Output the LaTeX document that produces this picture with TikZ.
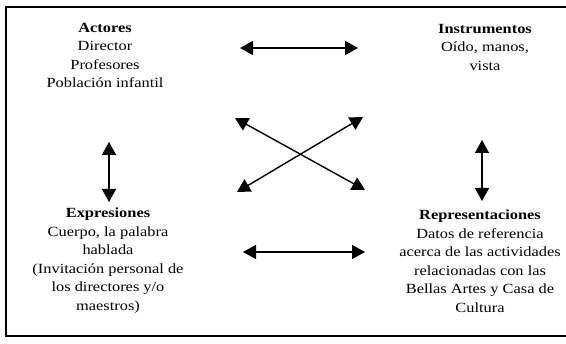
\documentclass[tikz,border=0pt]{standalone}
\usepackage{fontspec}
\setmainfont{Liberation Serif}[FakeStretch=1.17]
\usetikzlibrary{arrows.meta}
\begin{document}
\begin{tikzpicture}[x=1pt,y=-1pt,
  lbl/.style={align=center,inner sep=0pt,font=\fontsize{14}{18.5}\selectfont},
  dbl/.style={{Triangle[length=13pt,width=14pt]}-{Triangle[length=13pt,width=14pt]},line width=1.4pt}]
\useasboundingbox (0,0) rectangle (566,344);
\draw[line width=1.1pt] (566,7) -- (6,7) -- (6,336) -- (566,336);
\node[lbl,anchor=north] (act) at (105,23) {\textbf{Actores}\\Director\\Profesores\\Población infantil};
\node[lbl,anchor=north] (ins) at (485,24) {\textbf{Instrumentos}\\Oído, manos,\\vista};
\node[lbl,anchor=north] (exp) at (108,208) {\textbf{Expresiones}\\Cuerpo, la palabra\\hablada\\(Invitación personal de\\los directores y/o\\maestros)};
\node[lbl,anchor=north] (rep) at (480,210) {\textbf{Representaciones}\\Datos de referencia\\acerca de las actividades\\relacionadas con las\\Bellas Artes y Casa de\\Cultura};
\coordinate (t1) at (240,48); \coordinate (t2) at (358,48);
\coordinate (b1) at (243,252); \coordinate (b2) at (365,252);
\coordinate (l1) at (109,142); \coordinate (l2) at (109,202);
\coordinate (r1) at (482,140); \coordinate (r2) at (482,201);
\coordinate (c1) at (235,118); \coordinate (c2) at (365,190);
\coordinate (c3) at (363,117); \coordinate (c4) at (237,192);
\draw[dbl] (t1) -- (t2);
\draw[dbl] (b1) -- (b2);
\draw[dbl] (l1) -- (l2);
\draw[dbl] (r1) -- (r2);
\draw[dbl] (c1) -- (c2);
\draw[dbl] (c3) -- (c4);
\end{tikzpicture}
\end{document}
